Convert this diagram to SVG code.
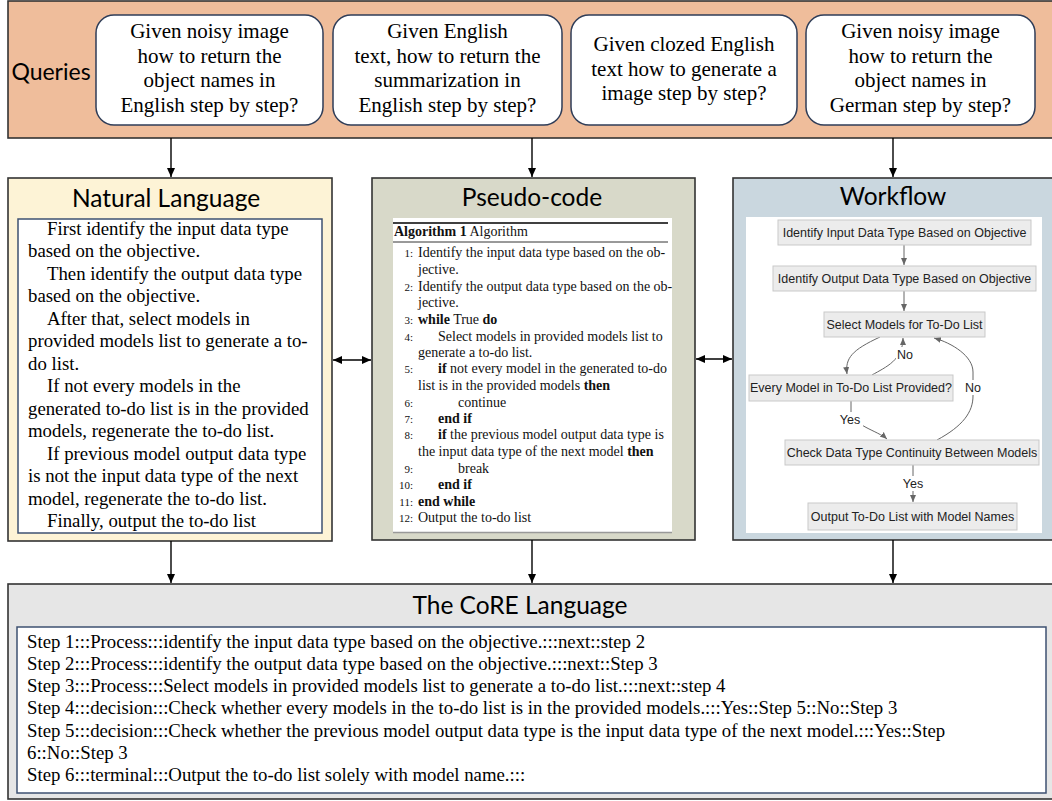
<svg xmlns="http://www.w3.org/2000/svg" width="1052" height="801" viewBox="0 0 1052 801">
<defs>
<marker id="ah" markerWidth="10" markerHeight="10" refX="9" refY="5" orient="auto" markerUnits="userSpaceOnUse">
<path d="M0,1 L9,5 L0,9 z" fill="#000"/>
</marker>
<marker id="ahs" markerWidth="10" markerHeight="10" refX="9" refY="5" orient="auto-start-reverse" markerUnits="userSpaceOnUse">
<path d="M0,1 L9,5 L0,9 z" fill="#000"/>
</marker>
<marker id="gh" markerWidth="8" markerHeight="8" refX="7" refY="4" orient="auto" markerUnits="userSpaceOnUse">
<path d="M0,1 L7,4 L0,7 z" fill="#666"/>
</marker>
</defs>
<style>
.panel{stroke:#333;stroke-width:1.6}
.title{font-family:Lato,"Liberation Sans",sans-serif;font-size:24.5px;fill:#000;text-anchor:middle}
.q{fill:#fff;stroke:#2f3d58;stroke-width:1.5}
.qt{font-family:"Liberation Serif",serif;font-size:21px;fill:#000;text-anchor:middle}
.nl{font-family:"Liberation Serif",serif;font-size:18.8px;fill:#000}
.pc{font-family:"Liberation Serif",serif;font-size:14px;fill:#111}
.ln{font-family:"Liberation Serif",serif;font-size:11px;fill:#111;text-anchor:end}
.b{font-weight:bold}
.wn{fill:#ececec;stroke:#c9c9c9;stroke-width:1}
.wt{font-family:"Liberation Sans",sans-serif;font-size:12.5px;fill:#222;text-anchor:middle}
.we{fill:none;stroke:#666;stroke-width:1}
.wl{font-family:"Liberation Sans",sans-serif;font-size:12.5px;fill:#222;text-anchor:middle}
.core{font-family:"Liberation Serif",serif;font-size:18.8px;fill:#000}
.conn{stroke:#000;stroke-width:1.4;fill:none}
</style>

<g id="queries">
<rect class="panel" x="8" y="1" width="1050" height="137" fill="#efbd9b"/>
<text x="51" y="80" font-family="Lato,'Liberation Sans',sans-serif" font-size="23" text-anchor="middle">Queries</text>
<g id="q1">
<rect class="q" x="96" y="15" width="227" height="110" rx="18"/>
<text class="qt" x="209.5" y="38">Given noisy image</text>
<text class="qt" x="209.5" y="63">how to return the</text>
<text class="qt" x="209.5" y="87">object names in</text>
<text class="qt" x="209.5" y="112">English step by step?</text>
</g>
<g id="q2">
<rect class="q" x="333" y="15" width="229" height="110" rx="18"/>
<text class="qt" x="447.5" y="38">Given English</text>
<text class="qt" x="447.5" y="63">text, how to return the</text>
<text class="qt" x="447.5" y="87">summarization in</text>
<text class="qt" x="447.5" y="112">English step by step?</text>
</g>
<g id="q3">
<rect class="q" x="571" y="15" width="226" height="110" rx="18"/>
<text class="qt" x="684" y="51">Given clozed English</text>
<text class="qt" x="684" y="76">text how to generate a</text>
<text class="qt" x="684" y="100">image step by step?</text>
</g>
<g id="q4">
<rect class="q" x="806" y="15" width="229" height="110" rx="18"/>
<text class="qt" x="920.5" y="38">Given noisy image</text>
<text class="qt" x="920.5" y="63">how to return the</text>
<text class="qt" x="920.5" y="87">object names in</text>
<text class="qt" x="920.5" y="112">German step by step?</text>
</g>
</g>

<g id="natural-language">
<rect class="panel" x="8" y="178" width="324" height="363" fill="#fdf3d6"/>
<text class="title" x="166" y="207">Natural Language</text>
<rect x="18" y="219" width="304" height="314" fill="#fff" stroke="#3e5172" stroke-width="1.5"/>
<text class="nl" x="47" y="235">First identify the input data type</text>
<text class="nl" x="28" y="257">based on the objective.</text>
<text class="nl" x="47" y="280">Then identify the output data type</text>
<text class="nl" x="28" y="302">based on the objective.</text>
<text class="nl" x="47" y="325">After that, select models in</text>
<text class="nl" x="28" y="347">provided models list to generate a to-</text>
<text class="nl" x="28" y="370">do list.</text>
<text class="nl" x="47" y="392">If not every models in the</text>
<text class="nl" x="28" y="415">generated to-do list is in the provided</text>
<text class="nl" x="28" y="437">models, regenerate the to-do list.</text>
<text class="nl" x="47" y="460">If previous model output data type</text>
<text class="nl" x="28" y="482">is not the input data type of the next</text>
<text class="nl" x="28" y="505">model, regenerate the to-do list.</text>
<text class="nl" x="47" y="527">Finally, output the to-do list</text>
</g>

<g id="pseudo-code">
<rect class="panel" x="372" y="178" width="323" height="362" fill="#d8d9c9"/>
<text class="title" x="532" y="206">Pseudo-code</text>
<rect x="393" y="218" width="279" height="315" fill="#fff"/>
<line x1="393" y1="223" x2="668" y2="223" stroke="#000" stroke-width="1.3"/>
<line x1="393" y1="242" x2="668" y2="242" stroke="#000" stroke-width="0.8"/>
<line x1="393" y1="532.5" x2="672" y2="532.5" stroke="#999" stroke-width="1.5"/>
<text class="pc" x="394" y="236"><tspan class="b">Algorithm 1</tspan> Algorithm</text>
<text class="ln" x="413" y="257">1:</text><text class="pc" x="418" y="257">Identify the input data type based on the ob-</text>
<text class="pc" x="418" y="274">jective.</text>
<text class="ln" x="413" y="291">2:</text><text class="pc" x="418" y="291">Identify the output data type based on the ob-</text>
<text class="pc" x="418" y="307">jective.</text>
<text class="ln" x="413" y="324">3:</text><text class="pc" x="418" y="324"><tspan class="b">while</tspan> True <tspan class="b">do</tspan></text>
<text class="ln" x="413" y="341">4:</text><text class="pc" x="438" y="341">Select models in provided models list to</text>
<text class="pc" x="418" y="357">generate a to-do list.</text>
<text class="ln" x="413" y="373">5:</text><text class="pc" x="438" y="373"><tspan class="b">if</tspan> not every model in the generated to-do</text>
<text class="pc" x="418" y="390">list is in the provided models <tspan class="b">then</tspan></text>
<text class="ln" x="413" y="407">6:</text><text class="pc" x="458" y="407">continue</text>
<text class="ln" x="413" y="423">7:</text><text class="pc b" x="438" y="423">end if</text>
<text class="ln" x="413" y="439">8:</text><text class="pc" x="438" y="439"><tspan class="b">if</tspan> the previous model output data type is</text>
<text class="pc" x="418" y="456">the input data type of the next model <tspan class="b">then</tspan></text>
<text class="ln" x="413" y="473">9:</text><text class="pc" x="458" y="473">break</text>
<text class="ln" x="413" y="489">10:</text><text class="pc b" x="438" y="489">end if</text>
<text class="ln" x="413" y="506">11:</text><text class="pc b" x="418" y="506">end while</text>
<text class="ln" x="413" y="522">12:</text><text class="pc" x="418" y="522">Output the to-do list</text>
</g>

<g id="workflow">
<rect class="panel" x="733" y="178" width="325" height="362" fill="#cad7df"/>
<text class="title" x="893" y="205">Workflow</text>
<rect x="746" y="217" width="296" height="316" fill="#fff"/>
<g id="wf-edges">
<path class="we" d="M904,245 L904,265" marker-end="url(#gh)"/>
<path class="we" d="M904,291 L904,311" marker-end="url(#gh)"/>
<path class="we" d="M880,337 C852,350 845,358 847,374" marker-end="url(#gh)"/>
<path class="we" d="M872,375 C886,367 903,360 903,338" marker-end="url(#gh)"/>
<path class="we" d="M937,440 C963,426 973,412 973,396 L973,372 C973,356 952,343 934,338" marker-end="url(#gh)"/>
<path class="we" d="M851,401 L851,412 C852,425 878,431 887,439" marker-end="url(#gh)"/>
<path class="we" d="M913,465 L913,502" marker-end="url(#gh)"/>
<rect x="896" y="347" width="19" height="15" fill="#fff"/>
<text class="wl" x="905" y="359">No</text>
<rect x="962" y="380" width="22" height="15" fill="#fff"/>
<text class="wl" x="973" y="392">No</text>
<rect x="838" y="412" width="25" height="15" fill="#fff"/>
<text class="wl" x="850" y="424">Yes</text>
<rect x="901" y="476" width="25" height="15" fill="#fff"/>
<text class="wl" x="913" y="488">Yes</text>
</g>
<g id="wf-n1"><rect class="wn" x="778" y="220" width="253" height="25"/><text class="wt" x="904.5" y="237">Identify Input Data Type Based on Objective</text></g>
<g id="wf-n2"><rect class="wn" x="773" y="266" width="263" height="25"/><text class="wt" x="904.5" y="283">Identify Output Data Type Based on Objective</text></g>
<g id="wf-n3"><rect class="wn" x="824" y="312" width="161" height="25"/><text class="wt" x="904.5" y="329">Select Models for To-Do List</text></g>
<g id="wf-n4"><rect class="wn" x="749" y="375" width="204" height="26"/><text class="wt" x="851" y="392">Every Model in To-Do List Provided?</text></g>
<g id="wf-n5"><rect class="wn" x="785" y="440" width="254" height="25"/><text class="wt" x="912" y="457">Check Data Type Continuity Between Models</text></g>
<g id="wf-n6"><rect class="wn" x="808" y="503" width="209" height="27"/><text class="wt" x="912.5" y="521">Output To-Do List with Model Names</text></g>
</g>

<g id="core-language">
<rect class="panel" x="8" y="584" width="1050" height="215" fill="#e6e6e6"/>
<text class="title" x="520" y="614">The CoRE Language</text>
<rect x="17" y="627" width="1029" height="166" fill="#fff" stroke="#3e5172" stroke-width="1.5"/>
<text class="core" x="27" y="648">Step 1:::Process:::identify the input data type based on the objective.:::next::step 2</text>
<text class="core" x="27" y="670">Step 2:::Process:::identify the output data type based on the objective.:::next::Step 3</text>
<text class="core" x="27" y="692">Step 3:::Process:::Select models in provided models list to generate a to-do list.:::next::step 4</text>
<text class="core" x="27" y="714">Step 4:::decision:::Check whether every models in the to-do list is in the provided models.:::Yes::Step 5::No::Step 3</text>
<text class="core" x="27" y="737">Step 5:::decision:::Check whether the previous model output data type is the input data type of the next model.:::Yes::Step</text>
<text class="core" x="27" y="759">6::No::Step 3</text>
<text class="core" x="27" y="781">Step 6:::terminal:::Output the to-do list solely with model name.:::</text>
</g>

<g id="connectors">
<line class="conn" x1="171" y1="138" x2="171" y2="177" marker-end="url(#ah)"/>
<line class="conn" x1="532" y1="138" x2="532" y2="177" marker-end="url(#ah)"/>
<line class="conn" x1="893" y1="138" x2="893" y2="177" marker-end="url(#ah)"/>
<line class="conn" x1="171" y1="541" x2="171" y2="583" marker-end="url(#ah)"/>
<line class="conn" x1="532" y1="540" x2="532" y2="583" marker-end="url(#ah)"/>
<line class="conn" x1="893" y1="540" x2="893" y2="583" marker-end="url(#ah)"/>
<line class="conn" x1="333" y1="360" x2="371" y2="360" marker-start="url(#ahs)" marker-end="url(#ahs)"/>
<line class="conn" x1="696" y1="359" x2="732" y2="359" marker-start="url(#ahs)" marker-end="url(#ahs)"/>
</g>
</svg>
